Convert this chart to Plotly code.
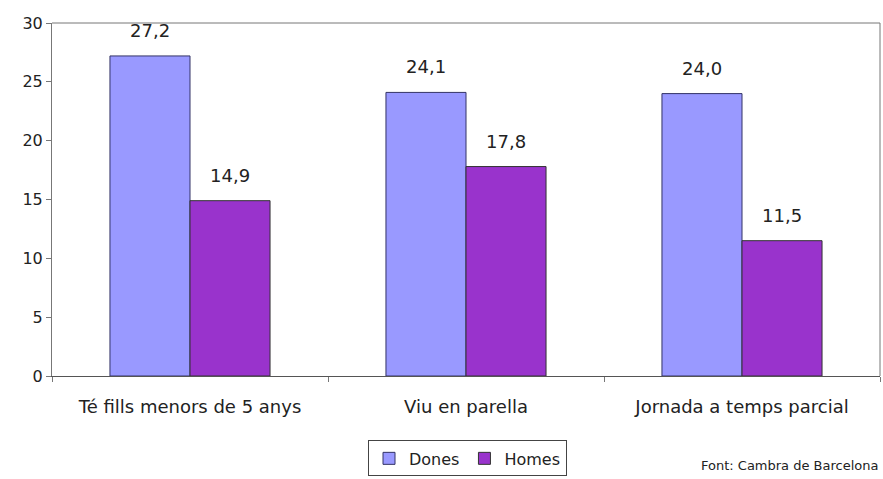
import plotly.graph_objects as go

categories = ["Té fills menors de 5 anys", "Viu en parella", "Jornada a temps parcial"]
dones = [27.2, 24.1, 24.0]
homes = [14.9, 17.8, 11.5]
y_ticks = [0, 5, 10, 15, 20, 25, 30]

def fmt(v):
    return f"{v:.1f}".replace(".", ",")

font_family = "DejaVu Sans, Verdana, sans-serif"
txt_color = "#222222"

fig = go.Figure()
fig.add_trace(go.Bar(
    x=categories, y=dones, name="Dones",
    marker=dict(color="#9999FF", line=dict(color="#333366", width=1)),
))
fig.add_trace(go.Bar(
    x=categories, y=homes, name="Homes",
    marker=dict(color="#9933CC", line=dict(color="#333333", width=1)),
))

# value labels above each bar (positioned via the data scale)
annotations = []
for series, shift in ((dones, -40), (homes, 40)):
    for cat, v in zip(categories, series):
        annotations.append(dict(
            x=cat, y=v, xref="x", yref="y", text=fmt(v), showarrow=False,
            xanchor="center", yanchor="bottom", xshift=shift, yshift=13,
            font=dict(size=18, color=txt_color, family=font_family),
        ))
annotations.append(dict(
    text="Font: Cambra de Barcelona", xref="paper", yref="paper",
    x=1.0, y=-(479 - 379) / 356, xanchor="right", yanchor="bottom",
    showarrow=False, font=dict(size=13, color=txt_color, family=font_family),
))

fig.update_layout(
    width=883, height=479,
    margin=dict(l=52, r=3, t=23, b=100),
    paper_bgcolor="white", plot_bgcolor="white",
    font=dict(family=font_family, size=18, color=txt_color),
    barmode="group", bargap=0.42, bargroupgap=0,
    showlegend=True,
    legend=dict(
        orientation="h", x=(368 - 52) / 828, y=-(444 - 379) / 356,
        xanchor="left", yanchor="top",
        bordercolor="#444444", borderwidth=1, bgcolor="white",
        font=dict(size=16), itemwidth=30, tracegroupgap=0,
    ),
    annotations=annotations,
)
fig.update_yaxes(
    range=[0, 30], tickvals=y_ticks, ticks="outside", ticklen=5,
    tickcolor="#777777", showline=True, linecolor="#777777", linewidth=1,
    showgrid=False, zeroline=False, tickfont=dict(size=16), automargin=False,
)
fig.update_xaxes(
    showline=True, linecolor="#555555", linewidth=1, ticks="outside",
    tickson="boundaries", ticklen=5, tickcolor="#777777", showgrid=False,
    tickfont=dict(size=18), ticklabelstandoff=14, automargin=False,
)
# top and right border lines of the plot area
fig.add_shape(type="line", xref="paper", yref="paper", x0=0, x1=1, y0=1, y1=1,
              line=dict(color="#777777", width=1))
fig.add_shape(type="line", xref="paper", yref="paper", x0=1, x1=1, y0=0, y1=1,
              line=dict(color="#777777", width=1))

fig.write_html("out.html")
